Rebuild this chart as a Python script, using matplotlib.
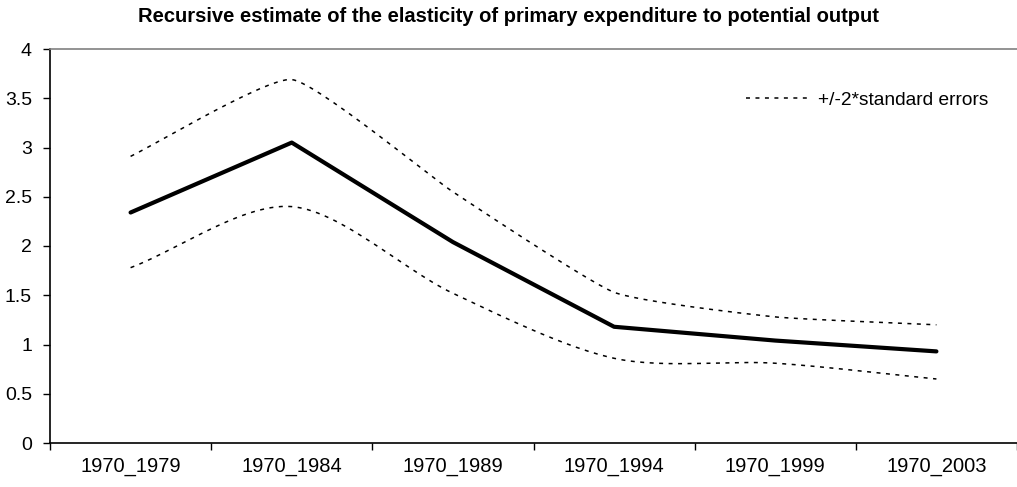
import numpy as np
import matplotlib
matplotlib.use("Agg")
import matplotlib.pyplot as plt

plt.rcParams['font.family'] = ['Liberation Sans', 'DejaVu Sans']

periods = ["1970_1979", "1970_1984", "1970_1989", "1970_1994", "1970_1999", "1970_2003"]
elasticity = [2.34, 3.05, 2.04, 1.18, 1.04, 0.93]
upper_band = [2.91, 3.69, 2.55, 1.53, 1.28, 1.20]
lower_band = [1.78, 2.40, 1.52, 0.86, 0.81, 0.65]


def smooth(x, y, tension=1.0, n=30):
    """Bezier spline through the points (spreadsheet-style 'smoothed line')."""
    x = np.asarray(x, float)
    y = np.asarray(y, float)
    px = np.concatenate([[2 * x[0] - x[1]], x, [2 * x[-1] - x[-2]]])
    py = np.concatenate([[2 * y[0] - y[1]], y, [2 * y[-1] - y[-2]]])
    xs, ys = [], []
    t = np.linspace(0, 1, n)
    for i in range(1, len(px) - 2):
        p0, p1, p2, p3 = (np.array([px[j], py[j]]) for j in range(i - 1, i + 3))
        m1 = tension * (p2 - p0) / 6.0
        m2 = tension * (p3 - p1) / 6.0
        b0, b1, b2, b3 = p1, p1 + m1, p2 - m2, p2
        seg = ((1 - t) ** 3)[:, None] * b0 + (3 * (1 - t) ** 2 * t)[:, None] * b1 \
            + (3 * (1 - t) * t ** 2)[:, None] * b2 + (t ** 3)[:, None] * b3
        xs.append(seg[:, 0])
        ys.append(seg[:, 1])
    return np.concatenate(xs), np.concatenate(ys)


fig = plt.figure(figsize=(10.17, 4.87), dpi=100)
ax = fig.add_axes([50 / 1017, 1 - 443 / 487, 967 / 1017, (443 - 49) / 487])

xpos = np.arange(len(periods))
dotted = (0, (2.6, 3.6))

sx, sy = smooth(xpos, upper_band, tension=0.45)
band_line, = ax.plot(sx, sy, color="black", lw=1.1, linestyle=dotted,
                     label="+/-2*standard errors")
sx, sy = smooth(xpos, lower_band, tension=0.9)
ax.plot(sx, sy, color="black", lw=1.1, linestyle=dotted)
ax.plot(xpos, elasticity, color="black", lw=3.0,
        solid_capstyle="round", solid_joinstyle="round")

ax.set_xlim(-0.5, len(periods) - 0.5)
ax.set_ylim(0, 4)
ax.set_yticks(np.arange(0, 4.01, 0.5))
ax.set_yticklabels(["0", "0.5", "1", "1.5", "2", "2.5", "3", "3.5", "4"])

ax.set_xticks(xpos)
ax.set_xticklabels(periods)
ax.set_xticks(np.arange(-0.5, len(periods), 1.0), minor=True)
ax.tick_params(axis="x", which="major", length=0, pad=10, labelsize=14.5)
ax.tick_params(axis="x", which="minor", length=5, width=1, direction="out")
ax.tick_params(axis="y", length=5, width=1, direction="out", labelsize=14, pad=8)

ax.spines["right"].set_visible(False)
ax.spines["top"].set_color("#808080")
ax.spines["top"].set_linewidth(1.2)
ax.spines["left"].set_linewidth(1.2)
ax.spines["bottom"].set_linewidth(1.2)

ax.legend(handles=[band_line], loc="center right", bbox_to_anchor=(0.988, 0.87),
          frameon=False, fontsize=13.8, handlelength=3.4, handletextpad=0.35)

fig.text(0.5, 1 - 17 / 487, "Recursive estimate of the elasticity of primary expenditure to potential output",
         ha="center", va="center", fontsize=14.5, fontweight="bold")

fig.savefig("out.png", dpi=100)
